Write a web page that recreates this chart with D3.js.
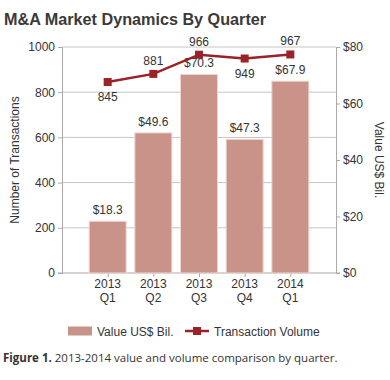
<!DOCTYPE html>
<html>
<head>
<meta charset="utf-8">
<script src="https://cdn.jsdelivr.net/npm/d3@7"></script>
<style>
  body { margin: 0; background: #fff; }
  svg text { font-family: Arial, "Liberation Sans", sans-serif; }
  svg text.caption { font-family: "Open Sans", sans-serif; }
</style>
</head>
<body>
<div id="chart"></div>
<script>
// chart data
const quarters = [["2013", "Q1"], ["2013", "Q2"], ["2013", "Q3"], ["2013", "Q4"], ["2014", "Q1"]];
const valueBil = [18.3, 49.6, 70.3, 47.3, 67.9];
const volume = [845, 881, 966, 949, 967];
const volumeLabelAbove = [false, true, true, false, true];
const leftTicks = [0, 200, 400, 600, 800, 1000];
const rightTicks = [0, 20, 40, 60, 80];

const W = 390, H = 380;
const margin = { top: 47, right: 54, bottom: 107, left: 62 };
const width = W - margin.left - margin.right;
const height = H - margin.top - margin.bottom;

const svg = d3.select("#chart").append("svg")
    .attr("width", W)
    .attr("height", H);

// title
svg.append("text")
    .attr("x", 4).attr("y", 25)
    .attr("font-size", 16.2).attr("font-weight", "bold")
    .attr("fill", "#3a3a3a")
    .text("M&A Market Dynamics By Quarter");

const g = svg.append("g")
    .attr("transform", "translate(" + margin.left + "," + margin.top + ")");

// scales
const x = d3.scalePoint().domain(d3.range(quarters.length)).range([0, width]).padding(1);
const yL = d3.scaleLinear().domain([0, 1000]).range([height, 0]);
const yR = d3.scaleLinear().domain([0, 80]).range([height, 0]);
const barW = 37;

// gridlines
g.append("g").selectAll("line")
    .data(leftTicks.slice(1))
    .enter().append("line")
    .attr("x1", 0).attr("x2", width)
    .attr("y1", d => yL(d)).attr("y2", d => yL(d))
    .attr("stroke", "#c9c4c4");

// axes
const leftAxis = g.append("g")
    .call(d3.axisLeft(yL).tickValues(leftTicks).tickSize(4).tickPadding(3).tickFormat(d3.format("d")));
const rightAxis = g.append("g")
    .attr("transform", "translate(" + width + ",0)")
    .call(d3.axisRight(yR).tickValues(rightTicks).tickSize(4).tickPadding(3).tickFormat(d => "$" + d));
const bottomAxis = g.append("g")
    .attr("transform", "translate(0," + height + ")")
    .call(d3.axisBottom(x).tickSize(4).tickFormat(""));

[leftAxis, rightAxis, bottomAxis].forEach(a => {
    a.attr("font-family", null);
    a.select(".domain").attr("stroke", "#aaa");
    a.selectAll(".tick line").attr("stroke", "#aaa");
    a.selectAll(".tick text").attr("fill", "#333").attr("font-size", 12);
});
bottomAxis.select(".domain").attr("d", "M-4,0H" + (width + 4));

// x labels, two lines
const xl = g.append("g").selectAll("text")
    .data(quarters)
    .enter().append("text")
    .attr("text-anchor", "middle")
    .attr("font-size", 12).attr("fill", "#333")
    .attr("x", (d, i) => x(i))
    .attr("y", height + 15);
xl.append("tspan").attr("x", (d, i) => x(i)).text(d => d[0]);
xl.append("tspan").attr("x", (d, i) => x(i)).attr("dy", 14).text(d => d[1]);

// bars
g.append("g").selectAll("rect")
    .data(valueBil)
    .enter().append("rect")
    .attr("x", (d, i) => x(i) - barW / 2)
    .attr("width", barW)
    .attr("y", d => yR(d))
    .attr("height", d => height - yR(d))
    .attr("fill", "#c9938a")
    .attr("stroke", "#ead8d4")
    .attr("stroke-width", 1);

// bar labels
g.append("g").selectAll("text")
    .data(valueBil)
    .enter().append("text")
    .attr("text-anchor", "middle")
    .attr("font-size", 12).attr("fill", "#333")
    .attr("x", (d, i) => x(i))
    .attr("y", d => yR(d) - 7)
    .text(d => "$" + d.toFixed(1));

// volume line
const line = d3.line().x((d, i) => x(i)).y(d => yL(d));
g.append("path")
    .datum(volume)
    .attr("d", line)
    .attr("fill", "none")
    .attr("stroke", "#9b2226")
    .attr("stroke-width", 2.5);

g.append("g").selectAll("rect")
    .data(volume)
    .enter().append("rect")
    .attr("x", (d, i) => x(i) - 4)
    .attr("y", d => yL(d) - 4)
    .attr("width", 8).attr("height", 8)
    .attr("fill", "#9b2226");

g.append("g").selectAll("text")
    .data(volume)
    .enter().append("text")
    .attr("text-anchor", "middle")
    .attr("font-size", 12).attr("fill", "#333")
    .attr("x", (d, i) => x(i))
    .attr("y", (d, i) => volumeLabelAbove[i] ? yL(d) - 9 : yL(d) + 19)
    .text(d => d);

// axis titles
svg.append("text")
    .attr("transform", "translate(19," + (margin.top + height / 2) + ") rotate(-90)")
    .attr("text-anchor", "middle")
    .attr("font-size", 12).attr("fill", "#333")
    .text("Number of Transactions");
svg.append("text")
    .attr("transform", "translate(375," + (margin.top + height / 2) + ") rotate(90)")
    .attr("text-anchor", "middle")
    .attr("font-size", 12).attr("fill", "#333")
    .text("Value US$ Bil.");

// legend
const legend = svg.append("g").attr("transform", "translate(0,331)");
legend.append("rect")
    .attr("x", 68).attr("y", -4.5).attr("width", 24).attr("height", 9)
    .attr("fill", "#c9938a");
legend.append("text")
    .attr("x", 97).attr("y", 4.5)
    .attr("font-size", 12).attr("fill", "#333")
    .text("Value US$ Bil.");
legend.append("line")
    .attr("x1", 185).attr("x2", 209).attr("y1", 0).attr("y2", 0)
    .attr("stroke", "#9b2226").attr("stroke-width", 2.5);
legend.append("rect")
    .attr("x", 193).attr("y", -4).attr("width", 8).attr("height", 8)
    .attr("fill", "#9b2226");
legend.append("text")
    .attr("x", 214).attr("y", 4.5)
    .attr("font-size", 12).attr("fill", "#333")
    .text("Transaction Volume");

// caption
const cap = svg.append("text")
    .attr("class", "caption")
    .attr("x", 3).attr("y", 362)
    .attr("font-size", 11.5).attr("fill", "#333");
cap.append("tspan").attr("font-weight", "bold").text("Figure 1.");
cap.append("tspan").text(" 2013-2014 value and volume comparison by quarter.");
</script>
</body>
</html>
